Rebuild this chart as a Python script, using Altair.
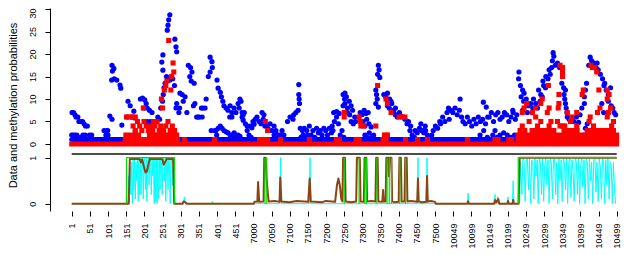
import json
import altair as alt
import pandas as pd

# ---------------- axis tick positions / labels ----------------
x_tick_index = [1, 51, 101, 151, 201, 251, 301, 351, 401, 451, 501, 551, 601, 651, 701,
                751, 801, 851, 901, 951, 1001, 1051, 1101, 1151, 1201, 1251, 1301, 1351,
                1401, 1451, 1501]
x_tick_labels = ["1", "51", "101", "151", "201", "251", "301", "351", "401", "451",
                 "7000", "7050", "7100", "7150", "7200", "7250", "7300", "7350", "7400",
                 "7450", "7500", "10049", "10099", "10149", "10199", "10249", "10299",
                 "10349", "10399", "10449", "10499"]
top_ticks = [0, 5, 10, 15, 20, 25, 30]
bottom_ticks = [0, 1]

# ---------------- top panel: data (blue) ----------------
blue_points = [
    (2, 7), (6, 7), (10, 6.5), (13, 6), (18, 6), (21, 5), (26, 5), (31, 5), (35, 4.5), (39, 4), (44, 4),
    (1, 2), (5, 2), (10, 2), (15, 2), (26, 1.5), (32, 2), (38, 2), (50, 2), (56, 2),
    (95, 2), (101, 2), (90, 3), (98, 3), (100, 3), (106, 6.2), (112, 5.5),
    (112, 17.5), (117, 16.8), (113, 16.2), (111, 14.2), (118, 14.5), (125, 14.2), (134, 13.1), (136, 12.4),
    (139, 4.2), (153, 6), (156, 9.5), (162, 8.5), (168, 6), (175, 5.8), (172, 7.3), (176, 3),
    (190, 10), (196, 10.2), (202, 9.8), (206, 9), (200, 8), (209, 8), (215, 7.5), (222, 7),
    (210, 5), (218, 5), (224, 2), (230, 2), (238, 6), (243, 5.5), (246, 8), (251, 9.5),
    (252, 19.8), (249, 18.2), (252, 16.4), (262, 15), (271, 14.2), (255, 12.5), (258, 13.5), (253, 11),
    (264, 25.3), (266, 26.4), (268, 27.6), (271, 28.7), (285, 23.3), (288, 21.6), (290, 20.5),
    (279, 14.5), (284, 13), (299, 11.3), (288, 8), (296, 7), (290, 9), (298, 8),
    (305, 11), (313, 10.5), (308, 9.5), (318, 7), (322, 17.5), (328, 17), (332, 16), (326, 15), (330, 14),
    (338, 13.5), (336, 8.5), (340, 9), (345, 6), (349, 6), (352, 6), (360, 6), (362, 8), (368, 8), (358, 8),
    (371, 10), (382, 19.3), (387, 18.3), (388, 17), (382, 16), (377, 15), (401, 14.2),
    (385, 3), (395, 3), (400, 2),
    (404, 12.4), (410, 11.5), (413, 10.5), (417, 9.5), (420, 8.5), (426, 8), (431, 7.5), (437, 8.5),
    (442, 7), (448, 8), (453, 7), (459, 9), (464, 10), (467, 9.5), (462, 8), (470, 7), (473, 6.5),
    (436, 6), (442, 6), (470, 6), (476, 7), (473, 5.3), (479, 4.5), (484, 4),
    (398, 3), (404, 3.5), (410, 4), (415, 3.5), (420, 3), (426, 2.7), (431, 2.5), (437, 2), (442, 2),
    (448, 2.5), (453, 2), (459, 2), (464, 1.7), (484, 3), (489, 2), (495, 1.5), (492, 4), (497, 3.6),
    (503, 4.4), (500, 5), (506, 5.5), (511, 6), (517, 5), (522, 4.5), (528, 5.5), (533, 4), (525, 7),
    (530, 6.5), (536, 4), (541, 3.5), (547, 4.5), (552, 3), (558, 4), (563, 3), (558, 2), (563, 2.5),
    (569, 1.5), (574, 2), (580, 3), (585, 2), (595, 5), (602, 6), (610, 5.5), (612, 6.5), (618, 7),
    (624, 7.5), (626, 13.2), (626, 11), (627, 10), (628, 9), (630, 3.5), (636, 3), (641, 3.5),
    (632, 1.5), (638, 2), (645, 1.5), (650, 2), (648, 3), (655, 4), (660, 2), (665, 3), (670, 1.5),
    (675, 3.5), (680, 2.5), (685, 3), (690, 2), (695, 3.5), (700, 3), (705, 2), (710, 3.5), (716, 2.5),
    (720, 3), (718, 4), (724, 5), (730, 6), (735, 4.5), (722, 7), (730, 7.2), (737, 6.8),
    (748, 11), (752, 10), (757, 10.5), (753, 11.3), (748, 8.5), (753, 9), (760, 8),
    (765, 9.5), (770, 8.5), (760, 7), (766, 6.5), (774, 7.5), (780, 6), (770, 5), (776, 4.5), (782, 5),
    (740, 2), (745, 3), (750, 1.5), (795, 7), (800, 6.5), (806, 7.5), (811, 6.8), (817, 7),
    (803, 5), (808, 4), (813, 5.5), (819, 4.5), (825, 3.8), (808, 2), (814, 1.5), (820, 2.5),
    (826, 1.5), (832, 2), (845, 17.5), (847, 16.5), (843, 15.5), (849, 14.8), (838, 12), (840, 11),
    (842, 10), (838, 9), (845, 8.2), (860, 11), (865, 10.5), (870, 11.3), (876, 10), (880, 9.5),
    (870, 8.5), (875, 8), (882, 9), (887, 7.5), (892, 8), (887, 7), (892, 6.5), (897, 6), (903, 7),
    (908, 6.2), (918, 5.5), (924, 4.5), (928, 5), (934, 4), (932, 3), (938, 2), (944, 1.5),
    (946, 3), (952, 2.5), (958, 3.5), (964, 3), (970, 2.5), (975, 3), (962, 4.5), (968, 3), (974, 4),
    (980, 2), (986, 1.5), (992, 2), (996, 3), (1002, 4), (1008, 3.5), (1014, 5), (1016, 4.5),
    (1022, 6), (1028, 5), (1034, 7), (1040, 5.5), (1038, 8), (1045, 7.5), (1050, 7), (1056, 8),
    (1062, 6.5), (1068, 7.5), (1074, 6), (1070, 10), (1078, 5), (1084, 4.5), (1090, 6), (1096, 5),
    (1102, 4), (1108, 5.5), (1114, 4.5), (1120, 6), (1126, 5), (1132, 5.5), (1140, 4.5), (1146, 6),
    (1134, 9.3), (1142, 8.2), (1125, 2), (1135, 3), (1145, 1.5),
    (1150, 6), (1156, 7), (1162, 5), (1168, 6.5), (1174, 7), (1180, 5.5), (1186, 6), (1192, 7),
    (1198, 6.5), (1204, 5), (1210, 6), (1216, 7), (1222, 5.5), (1226, 6.5), (1215, 7.5),
    (1160, 2), (1166, 3), (1172, 1.5), (1180, 2), (1190, 2.5), (1200, 2), (1210, 1.5), (1220, 2),
    (1232, 16), (1231, 14.5), (1236, 13), (1242, 12), (1246, 11.3), (1238, 10.5), (1245, 9.5),
    (1252, 10), (1258, 8.5), (1264, 9), (1270, 8), (1242, 7.5), (1255, 7), (1272, 10), (1278, 9),
    (1283, 8), (1290, 9.5), (1296, 10.5), (1286, 12), (1292, 11), (1300, 13), (1305, 12.5),
    (1298, 14), (1306, 15), (1312, 14.5), (1318, 15.5), (1315, 16.5), (1326, 20.3), (1328, 19.5),
    (1324, 18.5), (1332, 17.5), (1322, 17), (1338, 18), (1344, 17), (1350, 13.5), (1355, 12.5),
    (1360, 12), (1356, 11), (1358, 10), (1360, 9), (1362, 8), (1364, 7), (1365, 6), (1370, 5.5),
    (1383, 5), (1390, 6), (1396, 4.8), (1400, 6.5), (1405, 8), (1412, 9), (1412, 10.5), (1415, 12),
    (1418, 13.5), (1424, 17.5), (1428, 19.3), (1432, 18.5), (1438, 18), (1444, 17), (1450, 16.5),
    (1447, 18), (1456, 15.5), (1462, 14.5), (1468, 13.5), (1466, 13), (1472, 12), (1478, 11),
    (1484, 12.5), (1478, 9.5), (1486, 8.5), (1490, 8), (1494, 7), (1498, 6.5), (1460, 9), (1465, 7),
    (1410, 2), (1415, 3.5), (1420, 4.5), (1425, 2.5),
]
# continuous runs of blue points: (from index, to index, value)
blue_rows = [(1, 1230, 1)]

# ---------------- top panel: methylated (red) ----------------
red_points = [
    (152, 6), (160, 6), (168, 6), (176, 6), (170, 4), (176, 3), (182, 5), (188, 4), (194, 3),
    (200, 5), (206, 4), (198, 8), (212, 3), (218, 4), (224, 3), (230, 4), (236, 5), (242, 3), (226, 5),
    (246, 4), (254, 3), (260, 4), (266, 5), (272, 3), (278, 4), (284, 3),
    (248, 10), (251, 8), (256, 12), (260, 13), (263, 14), (268, 23), (280, 18), (282, 16), (276, 15),
    (274, 12), (311, 1), (394, 1),
    (518, 1), (534, 5), (540, 3), (530, 1), (540, 1), (576, 1), (655, 1), (730, 1), (738, 1),
    (751, 7), (751, 6), (784, 1), (792, 1), (792, 6), (795, 5), (797, 4), (805, 4), (838, 4),
    (843, 13), (858, 1), (866, 1), (862, 2), (870, 2), (866, 10), (870, 9), (880, 7),
    (902, 6), (910, 6), (918, 6), (920, 1), (953, 1), (980, 1), (1090, 1),
    (1166, 1), (1174, 1), (1204, 1), (1212, 1),
    (1235, 3), (1248, 3), (1268, 3), (1280, 3), (1292, 3), (1304, 3), (1316, 3), (1328, 3),
    (1356, 3), (1368, 3), (1380, 3), (1392, 3), (1420, 3), (1432, 3), (1444, 3), (1456, 3),
    (1468, 3), (1480, 3), (1492, 3),
    (1241, 4), (1283, 4), (1315, 4), (1345, 4), (1352, 4), (1358, 4), (1391, 4), (1437, 4), (1487, 4),
    (1260, 5), (1292, 5), (1320, 5), (1338, 5), (1374, 5), (1425, 5), (1492, 5),
    (1278, 6), (1377, 6), (1428, 6), (1475, 6),
    (1241, 7), (1269, 7), (1310, 7), (1365, 7), (1391, 7), (1448, 7), (1478, 7),
    (1246, 8), (1278, 8), (1315, 8), (1340, 8), (1455, 8), (1484, 8),
    (1253, 9), (1292, 9), (1342, 9), (1296, 10), (1475, 10),
    (1342, 11), (1406, 11), (1480, 11), (1409, 12), (1452, 12), (1475, 12), (1313, 13),
    (1352, 15), (1446, 16), (1352, 16), (1352, 17), (1434, 17), (1440, 17), (1345, 17.5), (1430, 17.5),
]
red_rows = [(1, 240, 0), (253, 1501, 0), (148, 292, 1), (150, 185, 2), (215, 290, 2),
            (1229, 1501, 1), (1229, 1290, 2), (1300, 1380, 2), (1392, 1501, 2)]

# separator between the panels (in probability units)
separator = [(1, 1501, 1.08)]

# ---------------- bottom panel: probabilities ----------------
cyan_pre = [(1, 0), (154, 0)]
cyan_a_start, cyan_a_step = 156, 2
cyan_a = [0.1, 0.6, 0.05, 0.8, 0.2, 0.9, 0.0, 0.95, 0.3, 1.0, 0.1, 0.9, 0.5, 1.0, 0.05, 0.95,
          0.2, 1.0, 0.2, 1.0, 0.9, 0.1, 1.0, 0.95, 0.3, 1.0, 0.05, 0.9, 1.0, 0.4, 1.0, 0.95,
          0.2, 1.0, 0.6, 0.95, 0.0, 1.0, 0.05, 1.0, 0.0, 0.95, 0.1, 1.0, 0.3, 1.0, 0.9, 0.2,
          1.0, 0.95, 0.5, 1.0, 0.05, 0.9, 1.0, 0.3, 1.0, 0.9, 0.0, 0.95, 1.0, 0.4, 0.8, 0.1, 0.3]
cyan_mid = [(286, 0), (309, 0), (311, 0.15), (313, 0), (386, 0), (388, 0.05), (390, 0),
            (574, 0), (576, 1.0), (578, 0), (655, 0), (657, 1.0), (659, 0), (952, 0), (954, 1.0),
            (956, 0), (977, 0), (979, 1.0), (981, 0), (1090, 0), (1092, 0.23), (1094, 0),
            (1164, 0), (1166, 0.2), (1168, 0), (1172, 0), (1174, 0.15), (1176, 0), (1200, 0),
            (1202, 0.15), (1204, 0), (1214, 0), (1216, 0.5), (1218, 0), (1232, 0)]
cyan_c_start, cyan_c_step = 1234, 3
cyan_c = [0.1, 0.9, 0.2, 1.0, 0.95, 0.05, 0.9, 1.0, 0.3, 1.0, 0.0, 0.95, 0.9, 0.1, 1.0, 0.6,
          0.95, 0.0, 1.0, 0.9, 0.2, 1.0, 0.05, 0.85, 1.0, 0.4, 0.95, 0.0, 1.0, 0.9, 0.1, 0.95,
          1.0, 0.2, 0.9, 0.0, 1.0, 0.5, 0.95, 0.05, 1.0, 0.9, 0.3, 1.0, 0.0, 0.9, 1.0, 0.15,
          0.95, 0.7, 0.05, 1.0, 0.9, 0.2, 1.0, 0.0, 0.85, 1.0, 0.35, 0.95, 0.0, 1.0, 0.9, 0.1,
          1.0, 0.5, 0.9, 0.0, 0.95, 1.0, 0.25, 0.9, 0.05, 1.0, 0.8, 0.1, 1.0, 0.9, 0.0, 0.95,
          0.4, 1.0, 0.1, 0.9, 0.85, 0.0, 0.9, 0.3, 0.0]

brown = [(1, 0), (158, 0), (161, 0.97), (188, 0.97), (192, 0.9), (195, 0.96), (200, 0.8),
         (204, 0.68), (208, 0.7), (212, 0.85), (216, 0.97), (250, 0.97), (254, 0.85), (258, 0.9),
         (262, 0.97), (280, 0.97), (283, 0), (306, 0), (309, 0.05), (313, 0.04), (318, 0),
         (502, 0), (504, 0.04), (512, 0.05), (514, 0.47), (517, 0.04), (529, 0.05), (531, 1.0),
         (535, 1.0), (537, 0.6), (540, 0.3), (543, 0.05), (560, 0.06), (573, 0.04), (575, 0.57),
         (578, 0.05), (600, 0.03), (620, 0.06), (652, 0.04), (654, 0.3), (656, 0.55), (659, 0.05),
         (690, 0.03), (700, 0.06), (726, 0.04), (731, 0.4), (735, 0.55), (739, 0.4), (743, 0.1),
         (746, 0.05), (748, 1.0), (753, 1.0), (755, 0.05), (770, 0.03), (784, 0.05), (786, 1.0),
         (794, 1.0), (796, 0.05), (805, 0.04), (807, 1.0), (812, 1.0), (814, 0.05), (825, 0.06),
         (837, 0.05), (839, 1.0), (843, 1.0), (845, 0.05), (856, 0.04), (858, 0.3), (860, 0.05),
         (865, 0.05), (867, 1.0), (872, 1.0), (874, 0.6), (876, 1.0), (881, 1.0), (883, 0.05),
         (890, 0.03), (901, 0.04), (903, 1.0), (907, 1.0), (909, 0.05), (917, 0.05), (919, 1.0),
         (923, 1.0), (925, 0.05), (935, 0.06), (952, 0.04), (954, 0.55), (956, 0.05), (965, 0.03),
         (977, 0.04), (979, 0.6), (981, 0.05), (990, 0.06), (1001, 0.04), (1003, 0), (1090, 0),
         (1092, 0.05), (1094, 0), (1164, 0), (1166, 0.08), (1169, 0.03), (1175, 0.1), (1178, 0),
         (1200, 0), (1202, 0.06), (1204, 0), (1214, 0), (1216, 0.08), (1218, 0), (1231, 0),
         (1234, 1.0), (1501, 1.0)]

# state path: blocks where state = 1 (from index, to index); single-index blocks are thin spikes
green_blocks = [(152, 284), (533, 533), (538, 538), (751, 751), (792, 792), (808, 808), (812, 812),
                (841, 841), (869, 869), (875, 875), (881, 881), (904, 904), (920, 920), (1230, 1501)]

# ---------------- mapping both panels onto one vertical scale ----------------
TOP_K, TOP_B = 4.5, 67.0     # counts panel
BOT_K, BOT_B = 46.0, 7.3     # probability panel
Y_MAX = 203.0


def top_v(val):
    return val * TOP_K + TOP_B


def bot_v(p):
    return p * BOT_K + BOT_B


blue_df = pd.DataFrame(blue_points, columns=["idx", "val"])
blue_df["v"] = top_v(blue_df["val"])
red_df = pd.DataFrame(red_points, columns=["idx", "val"])
red_df["v"] = top_v(red_df["val"])
blue_rows_df = pd.DataFrame(blue_rows, columns=["idx", "idx2", "val"])
blue_rows_df["v"] = top_v(blue_rows_df["val"])
red_rows_df = pd.DataFrame(red_rows, columns=["idx", "idx2", "val"])
red_rows_df["v"] = top_v(red_rows_df["val"])
sep_df = pd.DataFrame(separator, columns=["idx", "idx2", "p"])
sep_df["v"] = bot_v(sep_df["p"])

cyan_pts = list(cyan_pre)
cyan_pts += [(cyan_a_start + k * cyan_a_step, p) for k, p in enumerate(cyan_a)]
cyan_pts += cyan_mid
cyan_pts += [(cyan_c_start + k * cyan_c_step, p) for k, p in enumerate(cyan_c)]
cyan_df = pd.DataFrame(cyan_pts, columns=["idx", "p"])
cyan_df["v"] = bot_v(cyan_df["p"])
cyan_df["seq"] = range(len(cyan_df))

brown_df = pd.DataFrame(brown, columns=["idx", "p"])
brown_df["v"] = bot_v(brown_df["p"])
brown_df["seq"] = range(len(brown_df))

g_rows = []
for b, (s, e) in enumerate(green_blocks):
    if s == e:
        g_rows += [(b, s, 0), (b, s, 1)]
        continue
    g_rows += [(b, s, 0), (b, s, 1), (b, e, 1)]
    if e < 1501:
        g_rows.append((b, e, 0))
green_df = pd.DataFrame(g_rows, columns=["block", "idx", "p"])
green_df["v"] = bot_v(green_df["p"])
green_df["seq"] = range(len(green_df))

# ---------------- scales & axes ----------------
FONT = "Liberation Sans"
x_scale = alt.Scale(domain=[-58.72, 1537.6], nice=False, zero=False)
y_scale = alt.Scale(domain=[0, Y_MAX], nice=False, zero=False)

x_label_expr = "{}[indexof({}, datum.value)]".format(json.dumps(x_tick_labels), json.dumps(x_tick_index))
y_values = [top_v(t) for t in top_ticks] + [bot_v(t) for t in bottom_ticks]
y_label_expr = ("datum.value > 60 ? '' + round((datum.value - {b1}) / {k1}) : "
                "'' + round((datum.value - {b2}) / {k2})").format(b1=TOP_B, k1=TOP_K, b2=BOT_B, k2=BOT_K)

x_axis = alt.Axis(values=x_tick_index, labelExpr=x_label_expr, labelAngle=270, labelAlign="right",
                  labelBaseline="middle", labelPadding=7, tickSize=5, domain=False, grid=False,
                  labelOverlap=False, labelFlush=False, labelFontSize=9, labelFont=FONT,
                  labelColor="#000000", tickColor="#000000", title=None)
y_axis = alt.Axis(values=y_values, labelExpr=y_label_expr, labelAngle=270, labelAlign="center",
                  labelBaseline="bottom", labelPadding=8, tickSize=5, grid=False, labelOverlap=False,
                  labelFlush=False, labelFontSize=9, labelFont=FONT, labelColor="#000000",
                  labelOffset={"condition": {"test": "datum.value > 200", "value": 4}, "value": 0},
                  tickColor="#000000", domainColor="#000000",
                  title="Data and methylation probabilities", titleFont=FONT, titleFontSize=11,
                  titleFontWeight="normal", titleColor="#000000", titleAngle=270, titleAlign="center",
                  titleBaseline="alphabetic", titleX=-33.5, titleY=97)


def X():
    return alt.X("idx:Q", scale=x_scale, axis=x_axis)


def Y():
    return alt.Y("v:Q", scale=y_scale, axis=y_axis)


blue_row_layer = alt.Chart(blue_rows_df).mark_rule(color="#0000FF", strokeWidth=5, strokeCap="round").encode(
    x=X(), x2="idx2:Q", y=Y())
blue_layer = alt.Chart(blue_df).mark_circle(color="#0000FF", size=27, opacity=1).encode(x=X(), y=Y())
red_row_layer = alt.Chart(red_rows_df).mark_rule(color="#FF0000", strokeWidth=5, strokeCap="square").encode(
    x=X(), x2="idx2:Q", y=Y())
red_layer = alt.Chart(red_df).mark_square(color="#FF0000", size=26, opacity=1).encode(x=X(), y=Y())
sep_layer = alt.Chart(sep_df).mark_rule(color="#4d4d4d", strokeWidth=2).encode(x=X(), x2="idx2:Q", y=Y())
cyan_layer = alt.Chart(cyan_df).mark_line(color="#00FFFF", strokeWidth=1, strokeJoin="round").encode(
    x=X(), y=Y(), order="seq:Q")
brown_layer = alt.Chart(brown_df).mark_line(color="#8B4513", strokeWidth=2, strokeJoin="round").encode(
    x=X(), y=Y(), order="seq:Q")
green_layer = alt.Chart(green_df).mark_line(color="#00DD00", strokeWidth=1.2).encode(
    x=X(), y=Y(), detail="block:N", order="seq:Q")

chart = alt.layer(
    blue_row_layer, blue_layer, red_row_layer, red_layer, sep_layer, cyan_layer, brown_layer, green_layer
).properties(
    width=580, height=203,
    autosize=alt.AutoSizeParams(type="none"),
    padding={"left": 42, "top": 0, "right": 2, "bottom": 44},
).configure_view(strokeWidth=0)

chart.save("out.html", embed_options={"renderer": "svg", "actions": False})
